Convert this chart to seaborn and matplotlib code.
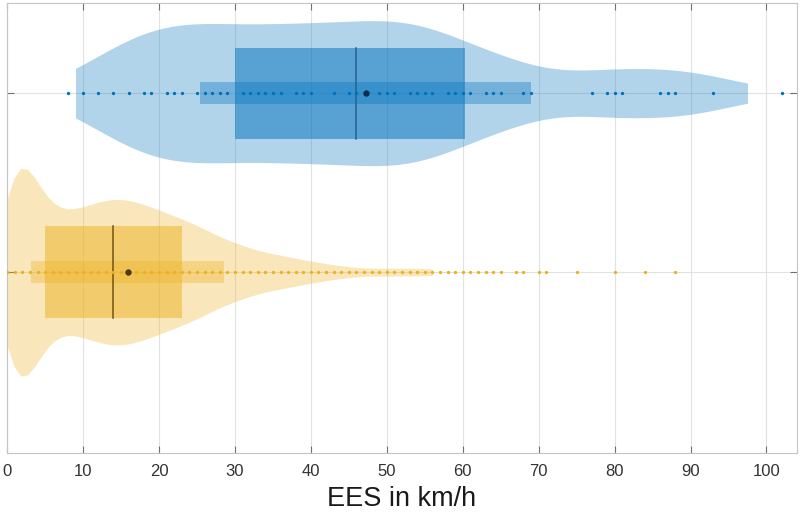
import numpy as np
import pandas as pd
import matplotlib
matplotlib.use("Agg")
import matplotlib.pyplot as plt
import seaborn as sns
from matplotlib.patches import Rectangle

# ---------------- data ----------------
groups = ["Gruppe A", "Gruppe B"]

a_values = [8, 10, 12, 14, 16, 18, 19, 21, 22, 23, 25, 26, 27, 28, 29, 31, 32, 33, 34, 35,
            36, 38, 39, 40, 43, 45, 46, 49, 50, 51, 53, 54, 55, 56, 58, 59, 60, 61, 63, 64,
            65, 68, 69, 77, 79, 80, 81, 86, 87, 88, 93, 102]
a_counts = [6, 10, 13, 18, 22, 19, 20, 21, 14, 19, 20, 13, 13, 13, 18, 18, 12, 12, 12, 13,
            19, 19, 13, 26, 34, 21, 21, 29, 14, 22, 22, 14, 14, 20, 16, 10, 9, 12, 11, 7,
            13, 11, 17, 20, 8, 6, 10, 13, 7, 13, 22, 5]

b_values = list(range(0, 57)) + [57, 58, 59, 60, 61, 62, 63, 64, 65, 67, 68, 70, 71, 75, 80, 84, 88]
b_counts = ([60, 62, 62, 55, 45, 37, 33, 31, 31, 32,
             33, 35, 36, 37, 38, 38, 37, 36, 35, 33,
             32, 30, 29, 27, 26, 24, 22, 20, 18, 16,
             15, 14, 12, 11, 10, 9, 9, 8, 7, 6,
             6, 5, 4, 4, 3, 3, 2, 2, 2, 2, 2, 2, 2, 2, 2, 2, 2]
            + [1] * 17)

violin_range = [[9.0, 97.4], [0.0, 56.0]]
q1 = [30.0, 5.0]
median = [46.0, 14.0]
q3 = [60.3, 23.0]
mean = [47.2, 15.85]
std = [21.85, 12.75]

# ---------------- styles ----------------
colors = ["#0072BD", "#EDB120"]
median_colors = ["#25628F", "#6E5414"]
mean_colors = ["#0B2E4A", "#4A3A10"]
violin_widths = [0.81, 1.16]
bw_adjust = [1.0, 0.5]
iqr_height = 0.51
std_height = 0.125

plt.rcParams["font.family"] = ["Liberation Sans", "DejaVu Sans"]

df = pd.concat([
    pd.DataFrame({"group": groups[0], "EES": np.repeat(a_values, a_counts)}),
    pd.DataFrame({"group": groups[1], "EES": np.repeat(b_values, b_counts)}),
], ignore_index=True)
unique_vals = [a_values, b_values]

fig, ax = plt.subplots(figsize=(8, 5.2), dpi=100)
fig.subplots_adjust(left=0.009, right=0.996, top=0.994, bottom=0.129)

for i, g in enumerate(groups):
    sub = df[df["group"] == g]
    n0 = len(ax.collections)
    sns.violinplot(data=sub, x="EES", y="group", order=groups, orient="h",
                   width=violin_widths[i], density_norm="width", cut=0, inner=None,
                   bw_adjust=bw_adjust[i], color=colors[i], saturation=1, linewidth=0,
                   alpha=0.3, ax=ax)
    lo, hi = violin_range[i]
    for coll in ax.collections[n0:]:
        coll.set_clip_path(Rectangle((lo, i - 0.8), hi - lo, 1.6, transform=ax.transData))

    # mean +- std box
    ax.barh(y=i, width=2 * std[i], left=mean[i] - std[i], height=std_height,
            color=colors[i], alpha=0.35, linewidth=0, zorder=2)
    # IQR box
    ax.barh(y=i, width=q3[i] - q1[i], left=q1[i], height=iqr_height,
            color=colors[i], alpha=0.5, linewidth=0, zorder=2)
    # median line
    ax.plot([median[i], median[i]], [i - iqr_height / 2, i + iqr_height / 2],
            color=median_colors[i], lw=1.1, zorder=3)
    # data points
    sns.stripplot(x=unique_vals[i], y=[g] * len(unique_vals[i]), order=groups, orient="h",
                  jitter=False, size=2.4, color=colors[i], linewidth=0, zorder=4, ax=ax)
    # mean marker
    sns.stripplot(x=[mean[i]], y=[g], order=groups, orient="h", jitter=False,
                  size=4.6, color=mean_colors[i], linewidth=0, zorder=5, ax=ax)

ax.set_xlim(0, 104)
ax.set_ylim(2.01, -0.503)
ax.set_xticks(range(0, 101, 10))
ax.set_yticks([0, 1])
ax.set_yticklabels([])
ax.set_ylabel("")
ax.set_xlabel("EES in km/h", fontsize=19.5, color="#1a1a1a", labelpad=5)

ax.set_axisbelow(True)
ax.grid(True, color="#E2E2E2", lw=0.8)
for s in ax.spines.values():
    s.set_color("#C4C4C4")
    s.set_linewidth(0.8)
ax.tick_params(direction="in", length=5, width=0.8, color="#707070",
               top=True, right=True, bottom=True, left=True,
               labelsize=12, pad=8, labelcolor="#333333")

fig.savefig("out.png", dpi=100)
